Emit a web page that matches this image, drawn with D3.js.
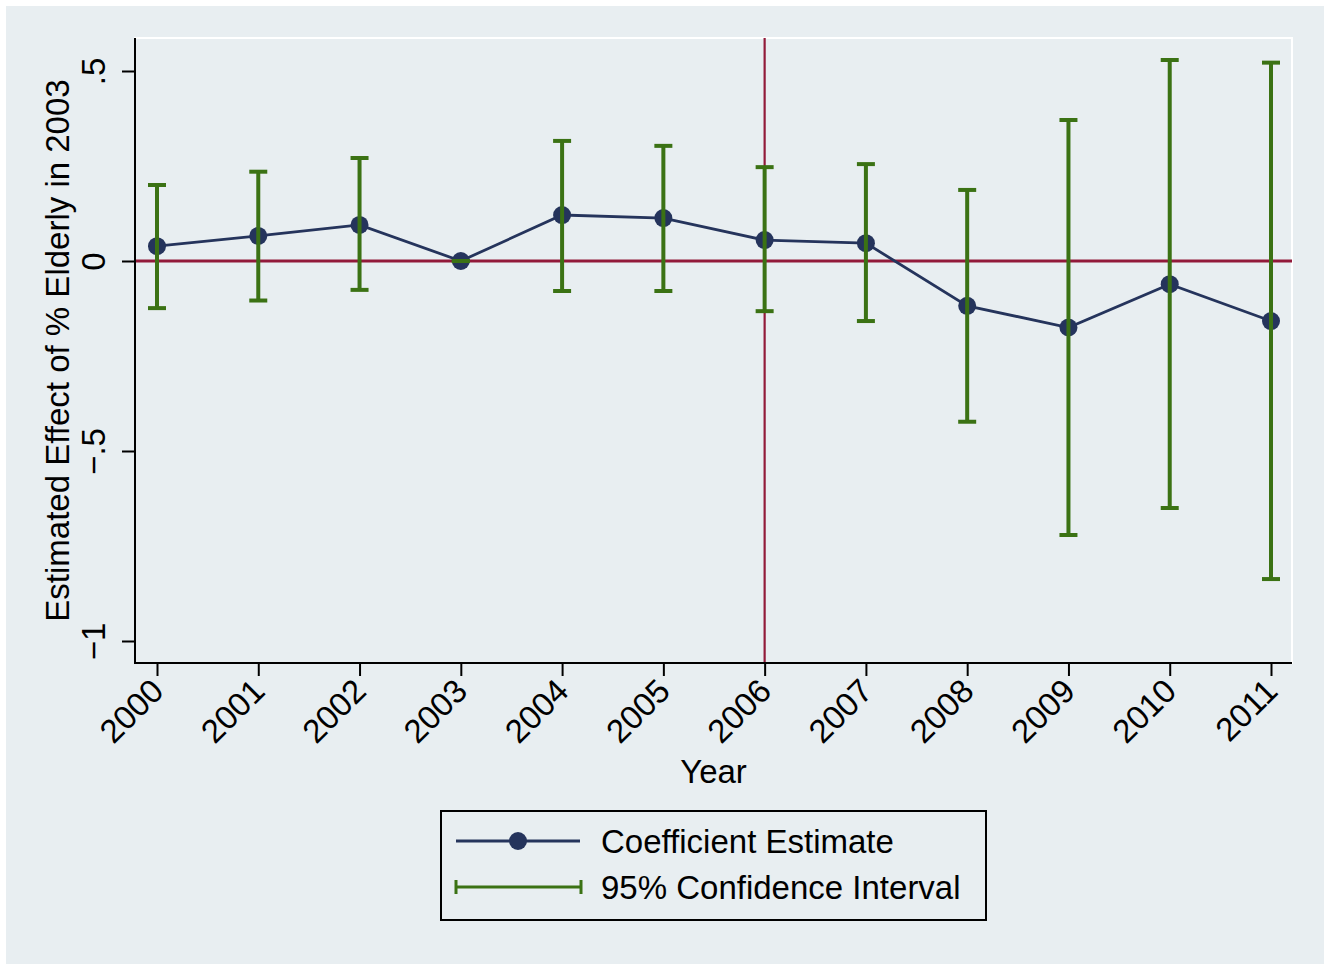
<!DOCTYPE html>
<html>
<head>
<meta charset="utf-8">
<script src="https://cdn.jsdelivr.net/npm/d3@7"></script>
<style>
  html, body { margin: 0; padding: 0; background: #ffffff; }
  svg { display: block; font-family: "Liberation Sans", Arial, Helvetica, sans-serif; }
</style>
</head>
<body>
<svg id="chart" width="1331" height="970"></svg>
<script>
// ---- data ----
const years = [2000, 2001, 2002, 2003, 2004, 2005, 2006, 2007, 2008, 2009, 2010, 2011];
const estimate = [0.039, 0.066, 0.095, 0.0, 0.121, 0.113, 0.055, 0.047, -0.118, -0.175, -0.061, -0.158];
const ciLower = [-0.124, -0.104, -0.076, 0.0, -0.079, -0.079, -0.132, -0.158, -0.423, -0.721, -0.650, -0.837];
const ciUpper = [0.200, 0.235, 0.271, 0.0, 0.316, 0.303, 0.247, 0.255, 0.187, 0.371, 0.529, 0.522];
const yTicks = [-1, -0.5, 0, 0.5];
const yTickLabels = ["\u22121", "\u2212.5", "0", ".5"];
const xLineYear = 2006;
const yLineValue = 0;
const legendLabels = ["Coefficient Estimate", "95% Confidence Interval"];
const xTitle = "Year";
const yTitle = "Estimated Effect of % Elderly in 2003";

// ---- styles ----
const bg = "#E8EEF1";
const navy = "#25345C";
const green = "#3B7214";
const maroon = "#921A3A";
const fontSize = 33;

const svg = d3.select("#chart");
const W = 1331, H = 970;

// graph region
svg.append("rect").attr("x", 0).attr("y", 0).attr("width", W).attr("height", H).attr("fill", "#ffffff");
svg.append("rect").attr("x", 6).attr("y", 6).attr("width", 1318).attr("height", 958).attr("fill", bg);

// plot region
const plot = { left: 135, right: 1292, top: 38, bottom: 663 };
svg.append("rect")
  .attr("x", plot.left).attr("y", plot.top)
  .attr("width", plot.right - plot.left).attr("height", plot.bottom - plot.top)
  .attr("fill", bg).attr("stroke", "#ffffff").attr("stroke-width", 2);

const x = d3.scaleLinear().domain([2000, 2011]).range([157, 1271]);
const y = d3.scaleLinear().domain([-1, 0.5]).range([641, 71]);

// reference lines
svg.append("line")
  .attr("x1", plot.left).attr("x2", plot.right)
  .attr("y1", y(yLineValue)).attr("y2", y(yLineValue))
  .attr("stroke", maroon).attr("stroke-width", 3);
svg.append("line")
  .attr("x1", x(xLineYear)).attr("x2", x(xLineYear))
  .attr("y1", plot.top).attr("y2", plot.bottom)
  .attr("stroke", maroon).attr("stroke-width", 2.2);

// estimate line + markers
const pts = years.map((yr, i) => ({ yr, est: estimate[i], lo: ciLower[i], hi: ciUpper[i] }));
svg.append("path")
  .datum(pts)
  .attr("fill", "none").attr("stroke", navy).attr("stroke-width", 2.8)
  .attr("d", d3.line().x(d => x(d.yr)).y(d => y(d.est)));
svg.append("g").selectAll("circle").data(pts).join("circle")
  .attr("cx", d => x(d.yr)).attr("cy", d => y(d.est)).attr("r", 9)
  .attr("fill", navy);

// CI bars
const capHalf = 9;
const ci = svg.append("g").attr("stroke", green).attr("stroke-width", 4).attr("fill", "none");
pts.forEach(d => {
  ci.append("line").attr("x1", x(d.yr)).attr("x2", x(d.yr)).attr("y1", y(d.lo)).attr("y2", y(d.hi));
  ci.append("line").attr("x1", x(d.yr) - capHalf).attr("x2", x(d.yr) + capHalf).attr("y1", y(d.lo)).attr("y2", y(d.lo));
  ci.append("line").attr("x1", x(d.yr) - capHalf).attr("x2", x(d.yr) + capHalf).attr("y1", y(d.hi)).attr("y2", y(d.hi));
});

// axes lines
svg.append("line").attr("x1", plot.left).attr("x2", plot.left).attr("y1", plot.top).attr("y2", plot.bottom + 1)
  .attr("stroke", "#000").attr("stroke-width", 2);
svg.append("line").attr("x1", plot.left - 1).attr("x2", plot.right).attr("y1", plot.bottom).attr("y2", plot.bottom)
  .attr("stroke", "#000").attr("stroke-width", 2);

// y axis
const yAxis = d3.axisLeft(y).tickValues(yTicks).tickSize(13).tickSizeOuter(0)
  .tickFormat((d, i) => yTickLabels[i]);
const gy = svg.append("g").attr("transform", `translate(${plot.left},0)`).call(yAxis);
gy.select(".domain").remove();
gy.selectAll(".tick line").attr("stroke", "#000").attr("stroke-width", 2);
gy.selectAll(".tick text")
  .attr("font-size", fontSize).attr("font-family", "Liberation Sans, Arial, sans-serif").attr("fill", "#000")
  .attr("transform", "rotate(-90)")
  .attr("x", 0).attr("y", -30).attr("dy", null)
  .attr("text-anchor", "middle");

// x axis
const xAxis = d3.axisBottom(x).tickValues(years).tickSize(13).tickSizeOuter(0).tickFormat(d3.format("d"));
const gx = svg.append("g").attr("transform", `translate(0,${plot.bottom})`).call(xAxis);
gx.select(".domain").remove();
gx.selectAll(".tick line").attr("stroke", "#000").attr("stroke-width", 2);
gx.selectAll(".tick text")
  .attr("font-size", fontSize).attr("font-family", "Liberation Sans, Arial, sans-serif").attr("fill", "#000")
  .attr("x", 0).attr("y", 0).attr("dy", null)
  .attr("text-anchor", "end")
  .attr("transform", "translate(8,30) rotate(-45)");

// axis titles
svg.append("text").attr("x", (plot.left + plot.right) / 2).attr("y", 783)
  .attr("text-anchor", "middle").attr("font-size", fontSize).attr("fill", "#000").text(xTitle);
svg.append("text")
  .attr("transform", `translate(69,${(plot.top + plot.bottom) / 2}) rotate(-90)`)
  .attr("text-anchor", "middle").attr("font-size", fontSize).attr("fill", "#000").text(yTitle);

// legend
const lg = svg.append("g");
lg.append("rect").attr("x", 441).attr("y", 811).attr("width", 545).attr("height", 109)
  .attr("fill", bg).attr("stroke", "#000").attr("stroke-width", 2);
lg.append("line").attr("x1", 456).attr("x2", 580).attr("y1", 841).attr("y2", 841)
  .attr("stroke", navy).attr("stroke-width", 2.8);
lg.append("circle").attr("cx", 518).attr("cy", 841).attr("r", 9).attr("fill", navy);
lg.append("line").attr("x1", 456).attr("x2", 581).attr("y1", 887).attr("y2", 887)
  .attr("stroke", green).attr("stroke-width", 3);
lg.append("line").attr("x1", 456).attr("x2", 456).attr("y1", 880).attr("y2", 894)
  .attr("stroke", green).attr("stroke-width", 3);
lg.append("line").attr("x1", 581).attr("x2", 581).attr("y1", 880).attr("y2", 894)
  .attr("stroke", green).attr("stroke-width", 3);
lg.selectAll("text.lbl").data(legendLabels).join("text").attr("class", "lbl")
  .attr("x", 601).attr("y", (d, i) => 853 + i * 46)
  .attr("font-size", fontSize).attr("fill", "#000").text(d => d);
</script>
</body>
</html>
